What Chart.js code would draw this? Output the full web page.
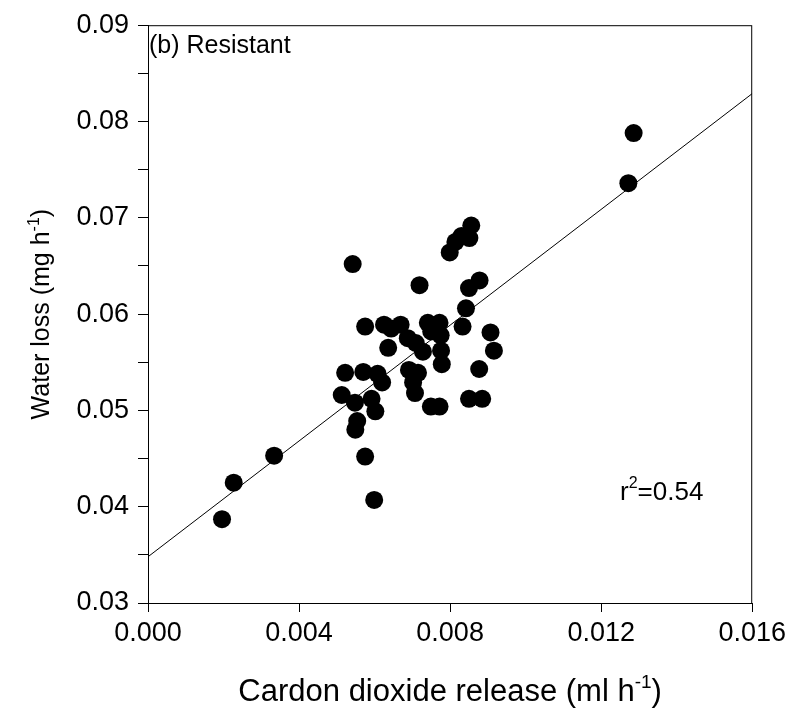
<!DOCTYPE html>
<html>
<head>
<meta charset="utf-8">
<title>Water loss vs carbon dioxide release</title>
<script src="https://cdn.jsdelivr.net/npm/chart.js@4.4.1/dist/chart.umd.min.js"></script>
<style>
  html, body { margin: 0; padding: 0; background: #fff; }
  #wrap { position: relative; width: 791px; height: 711px; }
</style>
</head>
<body>
<div id="wrap"><canvas id="chart"></canvas></div>
<script>
// values
const co2Release = [
  0.00196, 0.00227, 0.00334, 0.00542, 0.00719, 0.00799, 0.00814, 0.00830, 0.00851, 0.00856,
  0.00850, 0.00878, 0.00842, 0.00833, 0.00907, 0.00916, 0.00877, 0.00850, 0.00885, 0.00749,
  0.00772, 0.00575, 0.00625, 0.00644, 0.00669, 0.00636, 0.00688, 0.00709, 0.00741, 0.00772,
  0.00750, 0.00775, 0.00728, 0.00776, 0.00778, 0.00691, 0.00715, 0.00702, 0.00707, 0.00522,
  0.00570, 0.00608, 0.00620, 0.00513, 0.00548, 0.00592, 0.00602, 0.00554, 0.00549, 0.00575,
  0.00599, 0.01272, 0.01286
];
const waterLoss = [
  0.0387, 0.0425, 0.0453, 0.0652, 0.0630, 0.0664, 0.0675, 0.0681, 0.0679, 0.0692,
  0.0627, 0.0635, 0.0606, 0.0587, 0.0581, 0.0562, 0.0543, 0.0512, 0.0512, 0.0504,
  0.0504, 0.0587, 0.0589, 0.0585, 0.0589, 0.0565, 0.0575, 0.0570, 0.0591, 0.0591,
  0.0582, 0.0578, 0.0561, 0.0562, 0.0548, 0.0542, 0.0539, 0.0529, 0.0518, 0.0539,
  0.0540, 0.0538, 0.0529, 0.0516, 0.0508, 0.0512, 0.0499, 0.0489, 0.0480, 0.0452,
  0.0407, 0.0736, 0.0788
];

// regression line as printed
const fitIntercept = 0.0348;
const fitSlope = 3.006;
const rSquared = "0.54";

const xRange = [0, 0.016];
const yRange = [0.03, 0.09];
const xStep = 0.004;
const yStep = 0.005; // minor ticks, labels every 0.01

const panelLabel = "(b) Resistant";
const xTitle = ["Cardon dioxide release (ml h", "-1", ")"];
const yTitle = ["Water loss (mg h", "-1", ")"];

const FONT = "'Liberation Sans', Arial, Helvetica, sans-serif";

const points = co2Release.map((x, i) => ({ x: x, y: waterLoss[i] }));
const fitLine = xRange.map(x => ({ x: x, y: fitIntercept + fitSlope * x }));

// draws "base" + superscript + "tail", centred on x
function supText(ctx, parts, size, x, y) {
  const small = Math.round(size * 0.62);
  ctx.font = `${size}px ${FONT}`;
  const w0 = ctx.measureText(parts[0]).width;
  const w2 = ctx.measureText(parts[2]).width;
  ctx.font = `${small}px ${FONT}`;
  const w1 = ctx.measureText(parts[1]).width;
  const left = x - (w0 + w1 + w2) / 2;
  ctx.textAlign = "left";
  ctx.textBaseline = "alphabetic";
  ctx.font = `${size}px ${FONT}`;
  ctx.fillText(parts[0], left, y);
  ctx.font = `${small}px ${FONT}`;
  ctx.fillText(parts[1], left + w0, y - size * 0.42);
  ctx.font = `${size}px ${FONT}`;
  ctx.fillText(parts[2], left + w0 + w1, y);
}

const frameAndText = {
  id: "frameAndText",
  afterDraw(chart) {
    const { ctx, chartArea: { left, right, top, bottom } } = chart;
    ctx.save();
    ctx.strokeStyle = "#000";
    ctx.lineWidth = 1;
    ctx.strokeRect(left + 0.5, top + 0.5, right - left - 1, bottom - top);

    ctx.fillStyle = "#000";
    ctx.font = `25px ${FONT}`;
    ctx.textAlign = "left";
    ctx.textBaseline = "alphabetic";
    ctx.fillText(panelLabel, left + 1, top + 28);

    // r squared
    ctx.font = `26px ${FONT}`;
    const rx = 620, ry = 500;
    ctx.fillText("r", rx, ry);
    const rw = ctx.measureText("r").width;
    ctx.font = `16px ${FONT}`;
    ctx.fillText("2", rx + rw, ry - 12);
    const sw = ctx.measureText("2").width;
    ctx.font = `26px ${FONT}`;
    ctx.fillText("=" + rSquared, rx + rw + sw, ry);

    // axis titles
    supText(ctx, xTitle, 31, (left + right) / 2, 701);
    ctx.translate(49, (top + bottom) / 2);
    ctx.rotate(-Math.PI / 2);
    supText(ctx, yTitle, 25, 0, 0);
    ctx.restore();
  },
};

const config = {
  type: "scatter",
  data: {
    datasets: [
      {
        type: "line",
        data: fitLine,
        borderColor: "#000",
        borderWidth: 1,
        pointRadius: 0,
        fill: false,
      },
      {
        data: points,
        backgroundColor: "#000",
        borderWidth: 0,
        pointRadius: 9,
        pointHoverRadius: 9,
      },
    ],
  },
  options: {
    responsive: true,
    maintainAspectRatio: false,
    animation: false,
    layout: { padding: { left: 0, top: 22, right: 34, bottom: 0 } },
    plugins: {
      legend: { display: false },
      tooltip: { enabled: false },
    },
    scales: {
      x: {
        type: "linear",
        min: xRange[0],
        max: xRange[1],
        afterFit(scale) { scale.height = 108; },
        border: { display: true, color: "#000", width: 1 },
        grid: { drawOnChartArea: false, drawTicks: true, tickLength: 9, color: "#000" },
        ticks: {
          stepSize: xStep,
          padding: 5,
          color: "#000",
          font: { family: FONT, size: 27 },
          maxRotation: 0,
          callback: v => v.toFixed(3),
        },
      },
      y: {
        type: "linear",
        min: yRange[0],
        max: yRange[1],
        afterFit(scale) { scale.width = 148; },
        border: { display: true, color: "#000", width: 1 },
        grid: { drawOnChartArea: false, drawTicks: true, tickLength: 10, color: "#000" },
        ticks: {
          stepSize: yStep,
          padding: 9,
          color: "#000",
          font: { family: FONT, size: 27 },
          callback: v => (Math.round(v * 1000) % 10 === 0 ? v.toFixed(2) : ""),
        },
      },
    },
  },
  plugins: [frameAndText],
};

const chart = new Chart(document.getElementById("chart"), config);
</script>
</body>
</html>
